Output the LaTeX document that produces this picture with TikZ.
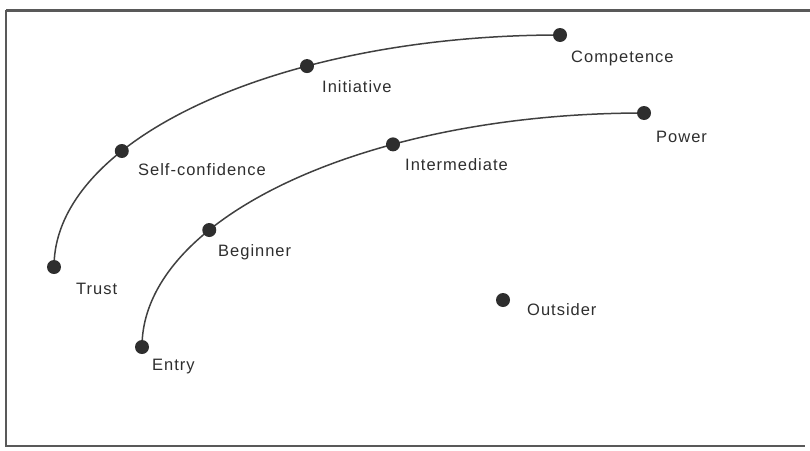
\documentclass[tikz,border=0pt]{standalone}
\usepackage{fontspec}
\setmainfont{Liberation Sans}[LetterSpace=6]
\begin{document}
\begin{tikzpicture}[x=1pt,y=1pt,
  dot/.style={circle,fill=black!82,inner sep=0pt,minimum size=14pt},
  lbl/.style={anchor=west,inner sep=0pt,text=black!82,font=\fontsize{16.5}{19}\selectfont},
  curve/.style={draw=black!75,line width=1.5pt},
  frame/.style={draw=black!65,line width=2pt}]
\useasboundingbox (0,0) rectangle (810,-450);
% frame
\coordinate (f1) at (810,-10);
\coordinate (f2) at (6,-10);
\coordinate (f3) at (6,-446);
\coordinate (f4) at (805,-446);
\draw[frame,line width=3pt] (f1) -- (f2);
\draw[frame] (f2) -- (f3) -- (f4);
% upper arc: centre (560,-267), radii 506, 232
\coordinate (trust) at (54,-267);
\coordinate (self) at ({560+506*cos(150)},{-267+232*sin(150)});
\coordinate (init) at ({560+506*cos(120)},{-267+232*sin(120)});
\coordinate (comp) at (560,-35);
% lower arc: centre (644,-347), radii 502, 234
\coordinate (entry) at (142,-347);
\coordinate (beg) at ({644+502*cos(150)},{-347+234*sin(150)});
\coordinate (inter) at ({644+502*cos(120)},{-347+234*sin(120)});
\coordinate (power) at (644,-113);
% curves
\draw[curve] (trust) arc[start angle=180,end angle=90,x radius=506pt,y radius=232pt];
\draw[curve] (entry) arc[start angle=180,end angle=90,x radius=502pt,y radius=234pt];
% dots
\node[dot] (dtrust) at (trust) {};
\node[dot] (dself) at (self) {};
\node[dot] (dinit) at (init) {};
\node[dot] (dcomp) at (comp) {};
\node[dot] (dentry) at (entry) {};
\node[dot] (dbeg) at (beg) {};
\node[dot] (dinter) at (inter) {};
\node[dot] (dpower) at (power) {};
\node[dot] (dout) at (503,-300) {};
% labels
\node[lbl] (ltrust) at (76,-289) {Trust};
\node[lbl] (lself) at (138,-170) {Self-confidence};
\node[lbl] (linit) at (322,-87) {Initiative};
\node[lbl] (lcomp) at (571,-58) {Competence};
\node[lbl] (lentry) at (152,-367) {Entry};
\node[lbl] (lbeg) at (218,-252) {Beginner};
\node[lbl] (linter) at (405,-165) {Intermediate};
\node[lbl] (lpower) at (656,-137) {Power};
\node[lbl] (lout) at (527,-310) {Outsider};
\end{tikzpicture}
\end{document}
